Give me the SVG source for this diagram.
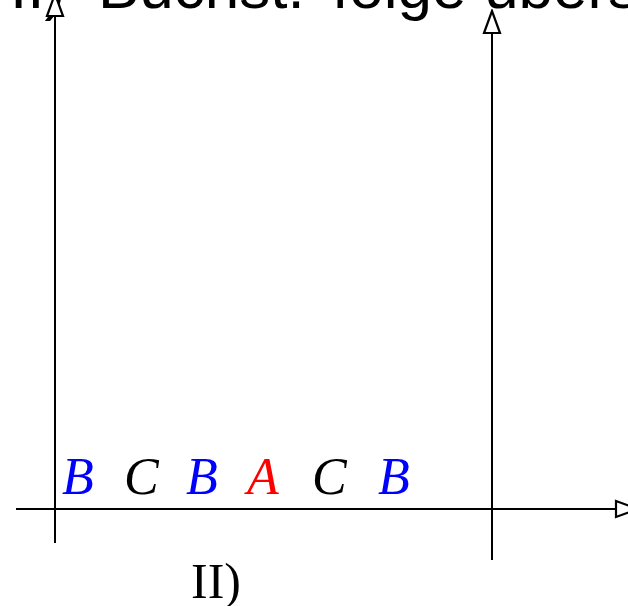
<svg xmlns="http://www.w3.org/2000/svg" width="628" height="606" viewBox="0 0 628 606">
<style>
.axis{stroke:#000;stroke-width:2;fill:none}
.lbl{font-family:"Liberation Serif","Times New Roman",serif;font-style:italic;font-size:52px}
.title{font-family:"Liberation Sans",Arial,sans-serif;font-size:62px;fill:#000}
.cap{font-family:"Liberation Serif","Times New Roman",serif;font-size:50px;fill:#000}
</style>
<defs>
<marker id="arr" markerUnits="userSpaceOnUse" markerWidth="26" markerHeight="20" refX="2" refY="10" orient="auto" viewBox="0 0 26 20">
<path d="M2,2 L24,10 L2,18 Z" fill="#fff" stroke="#000" stroke-width="2.2" stroke-linejoin="miter"/>
</marker>
</defs>
<g id="title"><text class="title" y="8"><tspan x="10">II)</tspan><tspan x="98">Buchst.</tspan><tspan x="332">folge</tspan><tspan x="484">übers</tspan></text></g>
<g id="connectors">
<line class="axis" x1="55" y1="543" x2="55" y2="16" marker-end="url(#arr)"/>
<line class="axis" x1="492" y1="560" x2="492" y2="33" marker-end="url(#arr)"/>
<line class="axis" x1="16" y1="509" x2="616" y2="509" marker-end="url(#arr)"/>
</g>
<g id="labels">
<text class="lbl" x="62" y="494" fill="#0000ff">B</text>
<text class="lbl" x="124" y="494" fill="#000">C</text>
<text class="lbl" x="186" y="494" fill="#0000ff">B</text>
<text class="lbl" x="247" y="494" fill="#ff0000">A</text>
<text class="lbl" x="312" y="494" fill="#000">C</text>
<text class="lbl" x="378" y="494" fill="#0000ff">B</text>
</g>
<g id="caption"><text class="cap" x="191" y="598">II)</text></g>
</svg>
